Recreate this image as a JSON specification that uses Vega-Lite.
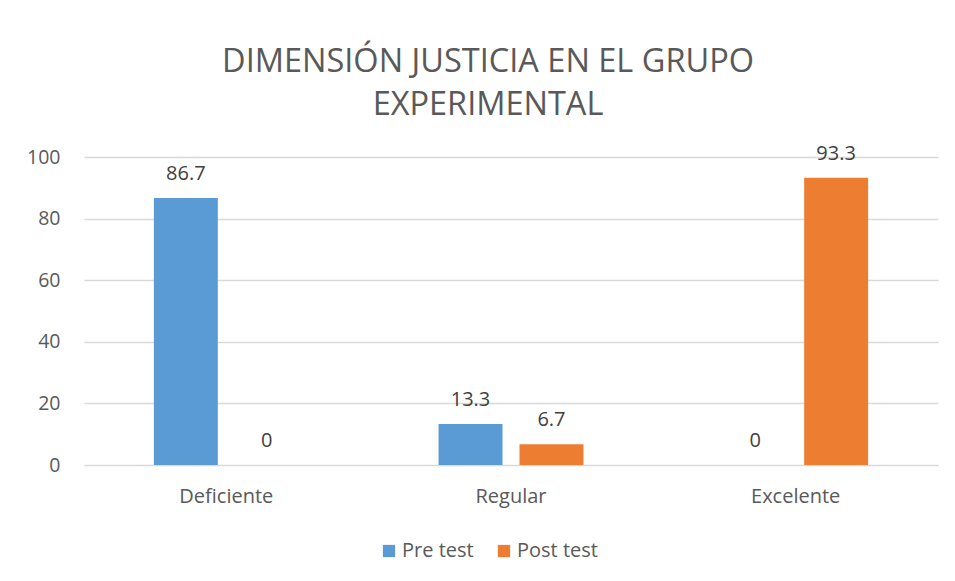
{
  "$schema": "https://vega.github.io/schema/vega-lite/v6.json",
  "autosize": {"type": "none"},
  "width": 854,
  "height": 308,
  "padding": {"left": 84, "top": 157, "right": 17, "bottom": 116},
  "background": "white",
  "title": {
    "text": ["DIMENSIÓN JUSTICIA EN EL GRUPO", "EXPERIMENTAL"],
    "font": "Open Sans",
    "fontSize": 32.5,
    "fontWeight": "normal",
    "color": "#595959",
    "anchor": "middle",
    "dx": -23,
    "lineHeight": 43,
    "offset": 22
  },
  "data": {
    "values": [
      {"nivel": "Deficiente", "grupo": "Pre test", "valor": 86.7},
      {"nivel": "Deficiente", "grupo": "Post test", "valor": 0},
      {"nivel": "Regular", "grupo": "Pre test", "valor": 13.3},
      {"nivel": "Regular", "grupo": "Post test", "valor": 6.7},
      {"nivel": "Excelente", "grupo": "Pre test", "valor": 0},
      {"nivel": "Excelente", "grupo": "Post test", "valor": 93.3}
    ]
  },
  "encoding": {
    "x": {
      "field": "nivel",
      "type": "nominal",
      "sort": ["Deficiente", "Regular", "Excelente"],
      "scale": {"paddingInner": 0.491, "paddingOuter": 0.2455},
      "axis": {
        "title": null,
        "labelAngle": 0,
        "domain": false,
        "ticks": false,
        "labelFont": "Open Sans",
        "labelFontSize": 20,
        "labelColor": "#595959",
        "labelPadding": 21
      }
    },
    "xOffset": {
      "field": "grupo",
      "type": "nominal",
      "sort": ["Pre test", "Post test"],
      "scale": {"paddingInner": 0.21, "paddingOuter": 0}
    },
    "y": {
      "field": "valor",
      "type": "quantitative",
      "scale": {"domain": [0, 100]},
      "axis": {
        "title": null,
        "values": [0, 20, 40, 60, 80, 100],
        "domain": false,
        "ticks": false,
        "grid": true,
        "gridColor": "#d9d9d9",
        "gridWidth": 1.3,
        "labelFont": "Open Sans",
        "labelFontSize": 19.5,
        "labelColor": "#595959",
        "labelPadding": 24
      }
    }
  },
  "layer": [
    {
      "mark": {"type": "bar"},
      "encoding": {
        "color": {
          "field": "grupo",
          "type": "nominal",
          "sort": ["Pre test", "Post test"],
          "scale": {"domain": ["Pre test", "Post test"], "range": ["#5B9BD5", "#ED7D31"]},
          "legend": {
            "title": null,
            "orient": "none",
            "legendX": 295,
            "legendY": 384,
            "direction": "horizontal",
            "symbolType": "square",
            "symbolSize": 150,
            "symbolStrokeWidth": 0,
            "labelFont": "Open Sans",
            "labelFontSize": 20,
            "labelColor": "#595959",
            "labelOffset": 3,
            "columnPadding": 20
          }
        }
      }
    },
    {
      "mark": {
        "type": "text",
        "baseline": "middle",
        "dy": -24,
        "font": "Open Sans",
        "fontSize": 20,
        "color": "#404040"
      },
      "encoding": {
        "text": {"field": "valor", "type": "quantitative"}
      }
    }
  ],
  "config": {
    "view": {"stroke": null}
  }
}
